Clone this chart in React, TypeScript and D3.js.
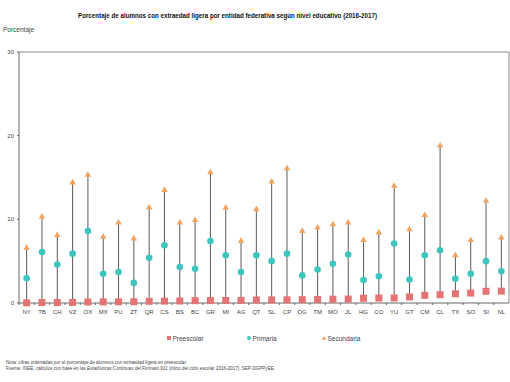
import React from "react";
import * as d3 from "d3";

const categories = ["NY","TB","CH","VZ","OX","MX","PU","ZT","QR","CS","BS","BC","GR","MI","AG","QT","SL","CP","DG","TM","MO","JL","HG","CO","YU","GT","CM","CL","TX","SO","SI","NL"];
const preescolar = [0.02,0.05,0.06,0.07,0.12,0.13,0.14,0.15,0.2,0.22,0.24,0.28,0.29,0.3,0.31,0.36,0.37,0.38,0.4,0.42,0.45,0.47,0.57,0.59,0.6,0.72,0.92,0.99,1.1,1.19,1.4,1.42];
const primaria = [2.95,6.1,4.6,5.9,8.6,3.5,3.7,2.4,5.4,6.9,4.3,4.1,7.4,5.7,3.7,5.7,5.0,5.9,3.3,4.0,4.7,5.8,2.75,3.2,7.1,2.8,5.7,6.3,2.9,3.5,5.0,3.8];
const secundaria = [6.6,10.3,8.1,14.4,15.3,7.9,9.6,7.7,11.4,13.5,9.6,9.9,15.6,11.4,7.4,11.2,14.5,16.1,8.6,9.0,9.4,9.6,7.5,8.4,14.0,8.8,10.5,18.8,5.7,7.5,12.2,7.8];
const yTicks = [0, 10, 20, 30];
const seriesNames = ["Preescolar", "Primaria", "Secundaria"];
const colors = ["#E57373", "#3EC6BE", "#F2A35E"];

const W = 510, H = 382;
const left = 19, right = 509, top = 52, bottom = 303;

export default function App() {
  const x = d3.scaleBand<string>().domain(categories).range([left, right]);
  const y = d3.scaleLinear().domain([0, 30]).range([bottom, top]);
  const cx = (c: string) => (x(c) as number) + x.bandwidth() / 2;
  const tri = d3.symbol().type(d3.symbolTriangle).size(18)();
  const font = "Arial, 'Liberation Sans', sans-serif";
  return (
    <svg width={W} height={H} style={{ position: "absolute", left: 0, top: 0 }} fontFamily={font}>
      <rect width={W} height={H} fill="#fff" />
      <text x={227.5} y={18} textAnchor="middle" fontSize={7} fontWeight="bold" fill="#111" textLength={299} lengthAdjust="spacingAndGlyphs">
        Porcentaje de alumnos con extraedad ligera por entidad federativa según nivel educativo (2016-2017)
      </text>
      <text x={3} y={32} fontSize={6.5} fill="#444">Porcentaje</text>
      <line x1={left} x2={right} y1={top} y2={top} stroke="#888" strokeWidth={1} />
      <line x1={right} x2={right} y1={top} y2={bottom} stroke="#888" strokeWidth={1} />
      <line x1={left} x2={left} y1={top} y2={bottom} stroke="#666" strokeWidth={1} />
      <line x1={left} x2={right} y1={bottom} y2={bottom} stroke="#666" strokeWidth={1} />
      {yTicks.map(t => (
        <g key={t}>
          <line x1={left - 2} x2={left} y1={y(t)} y2={y(t)} stroke="#666" />
          <text x={left - 5} y={y(t) + 2} textAnchor="end" fontSize={6} fill="#444">{t}</text>
        </g>
      ))}
      {categories.map((c, i) => (
        <line key={"tk" + i} x1={(x(c) as number)} x2={(x(c) as number)} y1={bottom} y2={bottom + 2} stroke="#666" />
      ))}
      {categories.map((c, i) => (
        <line key={"ln" + i} x1={cx(c)} x2={cx(c)} y1={y(preescolar[i])} y2={y(secundaria[i])} stroke="#5a5a5a" strokeWidth={1} />
      ))}
      {categories.map((c, i) => (
        <g key={"m" + i}>
          <rect x={cx(c) - 3.5} y={y(preescolar[i]) - 3.5} width={7} height={7} fill={colors[0]} />
          <circle cx={cx(c)} cy={y(primaria[i])} r={3.3} fill={colors[1]} />
          <path d={tri as string} transform={`translate(${cx(c)},${y(secundaria[i])})`} fill={colors[2]} />
        </g>
      ))}
      {categories.map(c => (
        <text key={"xl" + c} x={cx(c)} y={314} textAnchor="middle" fontSize={6} fill="#444">{c}</text>
      ))}
      {[169, 249, 324].map((lx, i) => (
        <g key={"lg" + i}>
          {i === 0 && <rect x={lx - 2} y={336} width={4} height={4} fill={colors[0]} />}
          {i === 1 && <circle cx={lx} cy={338} r={2} fill={colors[1]} />}
          {i === 2 && <path d={d3.symbol().type(d3.symbolTriangle).size(8)() as string} transform={`translate(${lx},${338.5})`} fill={colors[2]} />}
          <text x={lx + 3.5} y={340.5} fontSize={6.5} fill="#444">{seriesNames[i]}</text>
        </g>
      ))}
      <text x={6} y={364} fontSize={4.5} fill="#444" textLength={181} lengthAdjust="spacingAndGlyphs">Nota: cifras ordenadas por el porcentaje de alumnos con extraedad ligera en preescolar.</text>
      <text x={6} y={370} fontSize={4.5} fill="#444" textLength={269} lengthAdjust="spacingAndGlyphs">Fuente: INEE, cálculos con base en las <tspan fontStyle="italic">Estadísticas Continuas del Formato 911</tspan> (inicio del ciclo escolar 2016-2017), SEP-DGPPyEE.</text>
    </svg>
  );
}
